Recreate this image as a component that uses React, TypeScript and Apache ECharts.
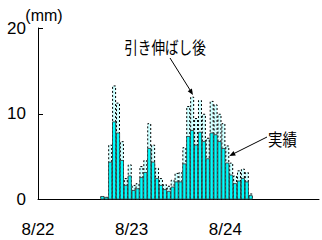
import React, { useEffect, useRef } from "react";
import * as echarts from "echarts";

// hour index counted from 8/22 00:00
const hours = [16, 17, 18, 19, 20, 21, 22, 23, 24, 25, 26, 27, 28, 29, 30, 31, 32, 33, 34, 35, 36, 37, 38, 39, 40, 41, 42, 43, 44, 45, 46, 47, 48, 49, 50, 51, 52, 53, 54];
const actual = [0.4, 0.3, 4.4, 9.1, 7.8, 4.6, 1.7, 2.8, 1.1, 1.3, 2.6, 3.2, 6.0, 4.4, 2.5, 1.7, 1.2, 1.0, 1.5, 2.1, 2.1, 4.2, 7.4, 8.1, 6.4, 7.9, 6.8, 4.8, 7.8, 7.6, 6.8, 6.0, 4.3, 2.9, 1.9, 2.2, 2.5, 2.1, 0.5];
const stretched = [0.4, 0.3, 6.4, 13.3, 11.3, 6.8, 2.5, 4.1, 1.7, 1.9, 3.9, 4.6, 8.9, 6.4, 3.7, 2.5, 1.8, 1.6, 2.3, 3.1, 3.2, 6.1, 10.9, 12.0, 9.5, 11.6, 10.0, 7.2, 11.5, 11.1, 10.0, 8.9, 6.3, 4.3, 2.8, 3.4, 3.6, 3.2, 0.7];
const dayLabels = ["8/22", "8/23", "8/24", ""];
const yTicks = [0, 10, 20];

const NARROW = "'Liberation Sans Narrow', 'Arial Narrow', 'Liberation Sans', Arial, sans-serif";
const JP = "'Noto Sans CJK JP', sans-serif";

export default function App() {
  const ref = useRef<HTMLDivElement>(null);
  useEffect(() => {
    document.body.style.margin = "0";
    const chart = echarts.init(ref.current!, null, { renderer: "svg" });
    const option: any = {
      animation: false,
      backgroundColor: "#fff",
      grid: { left: 38, top: 28, bottom: 40.5, width: 288, containLabel: false },
      xAxis: {
        type: "value",
        min: 0,
        max: 72,
        interval: 24,
        axisLine: { show: true, lineStyle: { color: "#000", width: 1 } },
        axisTick: { show: false },
        splitLine: { show: false },
        axisLabel: {
          margin: 21,
          fontSize: 17,
          fontFamily: NARROW,
          color: "#000",
          formatter: (v: number) => dayLabels[Math.round(v / 24)] ?? "",
        },
      },
      yAxis: {
        type: "value",
        min: yTicks[0],
        max: yTicks[yTicks.length - 1],
        interval: 10,
        axisLine: { show: true, lineStyle: { color: "#000", width: 1 } },
        axisTick: { show: true, inside: true, length: 5, lineStyle: { color: "#000" } },
        splitLine: { show: false },
        axisLabel: { margin: 12, fontSize: 17, fontFamily: NARROW, color: "#000", padding: [5, 0, 0, 0] },
      },
      series: [
        {
          name: "引き伸ばし後",
          type: "bar",
          barWidth: 4,
          barGap: "-100%",
          data: hours.map((h, i) => [h + 0.5, stretched[i]]),
          itemStyle: { color: "#ccffff", borderColor: "#000", borderWidth: 1, borderType: [2, 2] },
        },
        {
          name: "実績",
          type: "bar",
          barWidth: 4,
          barGap: "-100%",
          data: hours.map((h, i) => [h + 0.5, actual[i]]),
          itemStyle: { color: "#00ffff", borderColor: "#333333", borderWidth: 0.8 },
        },
      ],
      graphic: [
        {
          type: "text", x: 44, y: 15, scaleX: 1,
          style: { text: "(mm)", fontSize: 16, fontFamily: NARROW, fill: "#000", textAlign: "center", textVerticalAlign: "middle" },
        },
        {
          type: "text", x: 165, y: 46, scaleX: 0.8,
          style: { text: "引き伸ばし後", fontSize: 17, fontFamily: JP, fill: "#000", textAlign: "center", textVerticalAlign: "middle" },
        },
        {
          type: "text", x: 282.5, y: 138.5, scaleX: 0.85,
          style: { text: "実績", fontSize: 17, fontFamily: JP, fill: "#000", textAlign: "center", textVerticalAlign: "middle" },
        },
        { type: "line", shape: { x1: 170, y1: 58, x2: 191, y2: 91.5 }, style: { stroke: "#000", lineWidth: 1 } },
        { type: "polygon", shape: { points: [[193, 95], [187.7, 91.2], [191.9, 88.6]] }, style: { fill: "#000" } },
        { type: "line", shape: { x1: 267, y1: 137, x2: 233, y2: 154 }, style: { stroke: "#000", lineWidth: 1 } },
        { type: "polygon", shape: { points: [[229.3, 156], [233.5, 151.1], [235.8, 155.5]] }, style: { fill: "#000" } },
      ],
    };
    chart.setOption(option);
    return () => chart.dispose();
  }, []);
  return <div ref={ref} style={{ width: 322, height: 240, position: "absolute", left: 0, top: 0 }} />;
}
